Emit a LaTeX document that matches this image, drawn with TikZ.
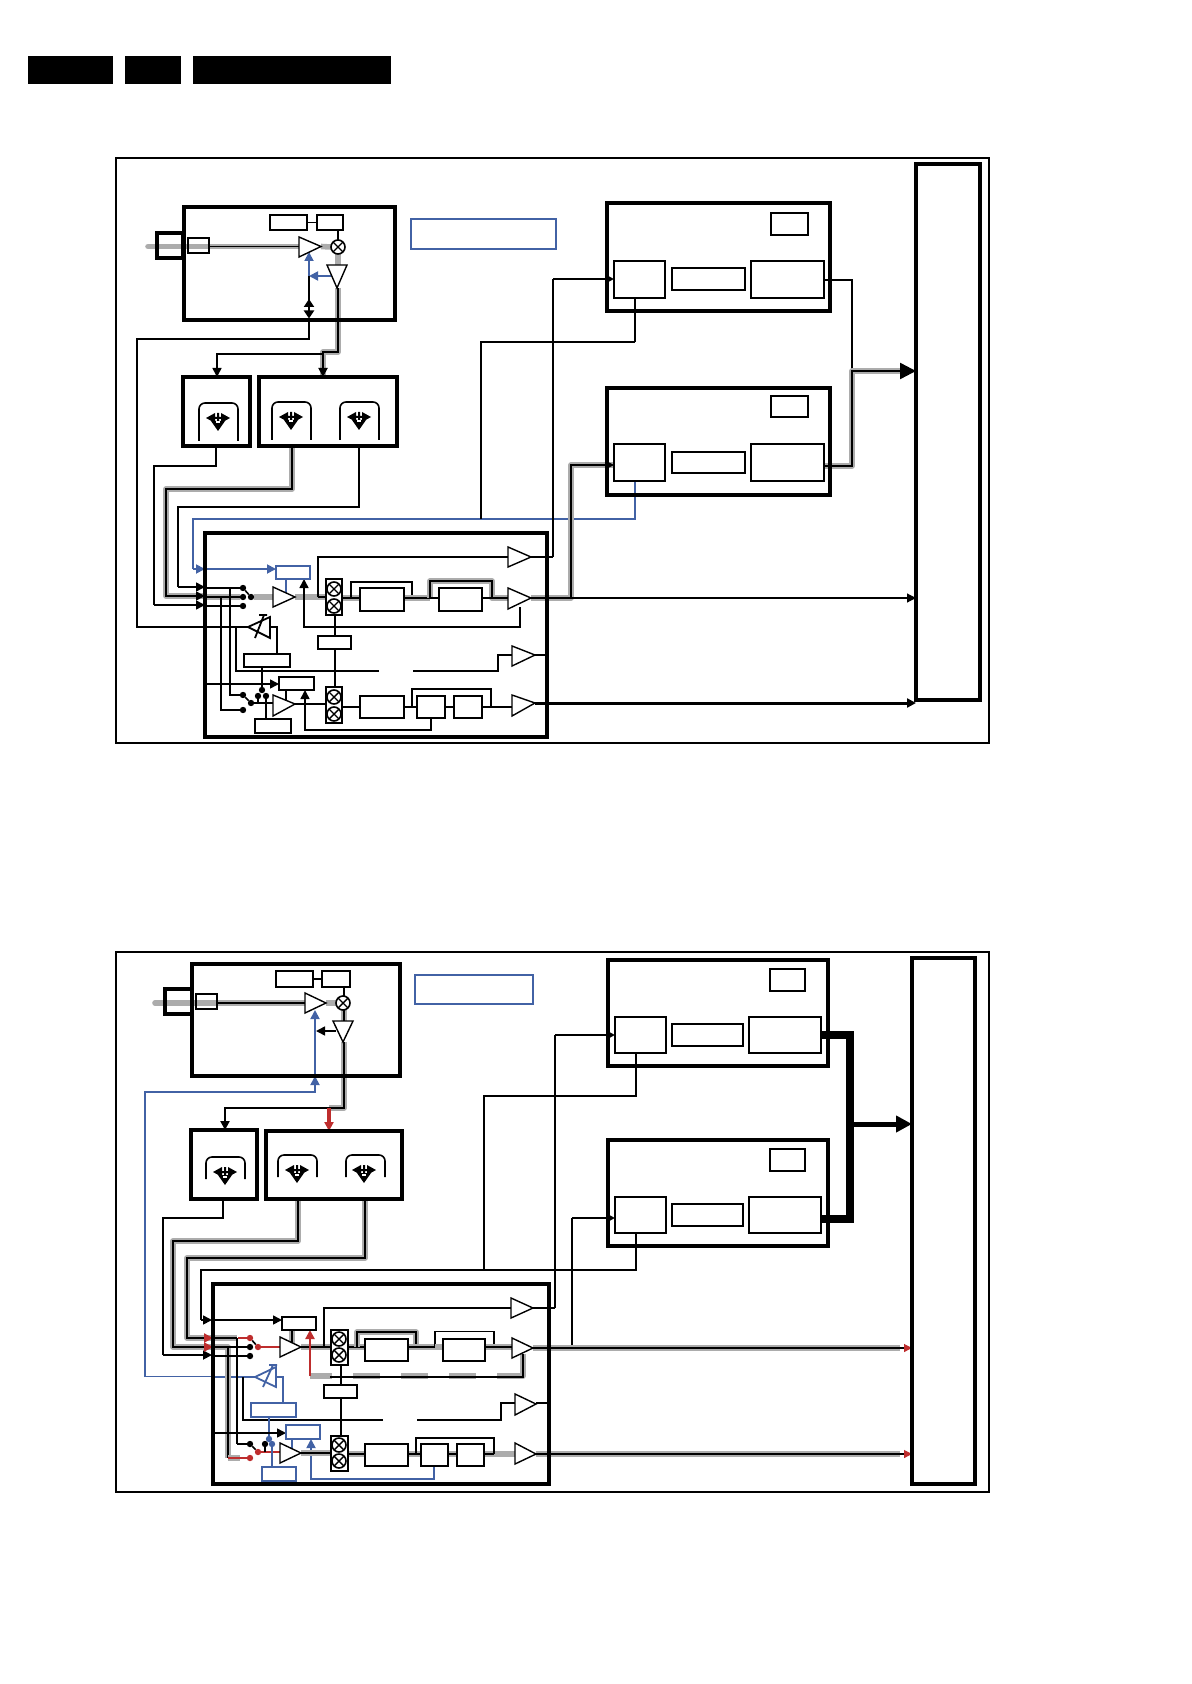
\documentclass[tikz,border=0pt]{standalone}
\usetikzlibrary{arrows.meta,backgrounds}
\definecolor{blu}{RGB}{66,98,165}
\definecolor{rd}{RGB}{190,45,45}
\definecolor{gry}{RGB}{172,172,172}
\tikzset{
 framebox/.style={draw,line width=1pt,inner sep=0,outer sep=0},
 bigbox/.style={draw,line width=1.6pt,inner sep=0,outer sep=0},
 thinbox/.style={draw,fill=white,line width=.55pt,inner sep=0,outer sep=0},
 medbox/.style={draw,fill=white,line width=1pt,inner sep=0,outer sep=0},
 openbox/.style={draw,line width=.55pt,inner sep=0,outer sep=0},
 blubox/.style={draw=blu,fill=white,line width=.8pt,inner sep=0,outer sep=0},
 blackbar/.style={fill=black,inner sep=0,outer sep=0},
 stackbox/.style={draw,fill=white,line width=.6pt,inner sep=0,outer sep=0},
 mixer/.style={circle,draw,fill=white,line width=.8pt,minimum size=7pt,inner sep=0,outer sep=0},
 dotn/.style={circle,fill=black,minimum size=3.2pt,inner sep=0,outer sep=0},
 rdot/.style={circle,fill=rd,minimum size=3.2pt,inner sep=0,outer sep=0},
 bdot/.style={circle,fill=blu,minimum size=3.2pt,inner sep=0,outer sep=0},
 ampst/.style={draw,fill=white,line width=.7pt,line join=miter},
 gl/.style={draw=gry,line width=2.8pt,line join=round},
 bk/.style={draw=black,line width=.9pt,line join=miter},
 th/.style={draw=black,line width=.55pt},
 md/.style={draw=black,line width=.8pt},
 tk/.style={draw=black,line width=1.3pt},
 bl/.style={draw=blu,line width=.9pt},
 blt/.style={draw=blu,line width=.55pt},
 rl/.style={draw=rd,line width=1.2pt},
 arr/.style={-{Triangle[length=4.5pt,width=4.5pt]}},
 bigarr/.style={-{Triangle[length=8pt,width=8pt]}},
}
\newcommand\bx[6][thinbox]{\node[#1,minimum width={(#5-#3)*0.5pt},minimum height={(#6-#4)*0.5pt}] (#2) at ({(#3+#5)/2},{(#4+#6)/2}) {};}
\newcommand\ampr[6][ampst]{\draw[#1] (#3,#4) -- (#3,#5) -- (#6) -- cycle; \coordinate (#2) at (#6); \coordinate (#2-in) at (#6 -| #3,0);}
\newcommand\mx[3]{\node[mixer] (#1) at (#2,#3) {}; \draw[line width=.7pt] (#1.north west) -- (#1.south east) (#1.north east) -- (#1.south west);}
\newcommand\archicon[4]{%
 \draw[line width=.8pt,rounded corners=3pt] (#1,#3+22) -- (#1,#3) -- (#1+39,#3) -- (#1+39,#3+22);
 \ifnum#4>0 \draw[line width=.8pt] (#1,#3+22) -- (#1,#3+38) (#1+39,#3+22) -- (#1+39,#3+38);\fi
 \fill (#2-12,#3+15) -- (#2-3,#3+10) -- (#2-3,#3+14) -- (#2-1,#3+14) -- (#2-1,#3+10) -- (#2+1,#3+10) -- (#2+1,#3+14) -- (#2+3,#3+14) -- (#2+3,#3+10) -- (#2+12,#3+15) -- (#2+3,#3+20) -- (#2+3,#3+16) -- (#2+1,#3+16) -- (#2+1,#3+18) -- (#2+7,#3+18) -- (#2,#3+28) -- (#2-7,#3+18) -- (#2-1,#3+18) -- (#2-1,#3+16) -- (#2-3,#3+16) -- (#2-3,#3+20) -- cycle;
 \fill[white] (#2-2,#3+18.5) rectangle (#2+2,#3+20.5);}
\newcommand\gb[2][]{\draw[gl] #2; \draw[bk,#1] #2;}
\begin{document}
\begin{tikzpicture}[x=0.5pt,y=-0.5pt]
\useasboundingbox (0,0) rectangle (1191,1684);
% header bars
\bx[blackbar]{hA}{28}{56}{113}{84}
\bx[blackbar]{hB}{125}{56}{181}{84}
\bx[blackbar]{hC}{193}{56}{391}{84}

%%%%%%%%%%%%%%%%%%%% TOP FRAME
\bx[framebox]{aframe}{116}{158}{989}{743}
\bx[bigbox]{abus}{916}{164}{980}{700}
\bx[bigbox]{aTun}{184}{207}{395}{320}
\bx[bigbox]{aConn}{157}{233}{183}{258}
\bx[openbox]{aSm}{188}{238}{209}{253}
\bx{aLOa}{270}{215}{307}{230}
\bx{aLOb}{317}{215}{343}{230}
\bx[blubox]{aNote}{411}{219}{556}{249}
\coordinate (aAnt) at (148,246.5);
\ampr{aTA}{299}{237}{257}{321,246.5}
\mx{aMx}{338}{247}
\draw[ampst] (327,265) -- (347,265) -- (337,288) -- cycle;
\coordinate (aTD) at (338,288); \coordinate (aTDin) at (338,265); \coordinate (aTDs) at (331,276);
\coordinate (aJ) at (309,276);
\bx[bigbox]{aFA}{183}{377}{250}{446}
\bx[bigbox]{aFB}{259}{377}{397}{446}
\archicon{199}{218}{403}{1}
\archicon{272}{291}{402}{1}
\archicon{340}{359}{402}{1}
% IF boxes
\bx[bigbox]{aIFa}{607}{203}{830}{311}
\bx{aIFas}{771}{213}{808}{235}
\bx[medbox]{aIFal}{614}{261}{665}{298}
\bx{aIFam}{672}{268}{745}{290}
\bx{aIFar}{751}{261}{824}{298}
\bx[bigbox]{aIFb}{607}{388}{830}{495}
\bx{aIFbs}{771}{396}{808}{417}
\bx{aIFbl}{614}{444}{665}{481}
\bx{aIFbm}{672}{452}{745}{473}
\bx{aIFbr}{751}{444}{824}{481}
% main IC
\bx[bigbox]{aIC}{205}{533}{547}{737}
\bx[blubox]{aAGCa}{276}{566}{310}{579}
\ampr{aAa}{273}{587}{607}{295,597}
\bx[stackbox]{aSt}{326}{579}{342}{615}
\mx{aMa}{334}{589}\mx{aMb}{334}{606}
\bx[medbox]{aFa}{360}{588}{404}{611}
\bx[medbox]{aFb}{439}{588}{482}{611}
\ampr{aOa}{508}{547}{567}{531,557}
\ampr{aOb}{508}{588}{609}{531,598}
\ampr{aOc}{512}{646}{666}{535,655}
\ampr{aOd}{512}{695}{716}{535,703}
\bx{aOsc}{318}{636}{351}{649}
\bx[medbox]{aAFC}{244}{654}{290}{667}
\bx[medbox]{aAGCb}{279}{677}{314}{690}
\ampr{aAb}{273}{695}{716}{295,704}
\bx[stackbox]{aStb}{326}{687}{342}{723}
\mx{aMc}{334}{697}\mx{aMd}{334}{714}
\bx{aFc}{360}{696}{404}{718}
\bx[medbox]{aFd}{417}{696}{445}{718}
\bx[medbox]{aFe}{454}{696}{482}{718}
\bx{aSet}{255}{719}{291}{733}
\foreach \n/\x/\y in {aSa/243/588,aSb/243/597,aSc/243/606,aSd/251/597,aSe/243/695,aSf/243/710,aSg/251/703,aSh/258/696,aSi/262/690,aSj/266/696}{\node[dotn] (\n) at (\x,\y) {};}
% varicap
\draw[line width=.9pt] (248,627) -- (270,617) -- (270,638) -- cycle;
\coordinate (aVc) at (248,627); \coordinate (aVb) at (270,627);
\draw[line width=.9pt] (255,638) -- (264,615) (259,615) -- (267,615);

\begin{pgfonlayer}{background}
\draw[gl,line cap=round] (aAnt) -- (aTA-in);
\draw[bk] (aSm.east |- aAnt) -- (aTA-in);
\draw[gl] (aTA) -- (aMx.west);
\draw[th] (aMx.north |- aLOb.south) -- (aMx.north);
\draw[md] (aLOa.east) -- (aLOb.west);
\draw[gl] (aMx.south) -- (aTDin);
\gb[arr]{(aTD) -- (338,352) -- (323,352) -- (aFB.north -| 323,0)}
\draw[md,arr] (323,354) -- (217,354) -- (aFA.north -| 217,0);
\draw[bl,arr] (aTDs) -- (aJ);
\draw[bl,arr] (aJ) -- (309,252);
\draw[tk] (aJ) -- (309,308);
\draw[tk,<->,>={Triangle[length=4pt,width=5pt]}] (309,299) -- (309,318.5);
\draw[md] (309,318) -- (309,339) -- (137,339) -- (137,627) -- (aVc);
\draw[th] (aFA.south -| 216,0) -- (216,466) -- (154,466) -- (154,605);
\draw[md,arr] (154,605) -- (205,605);
\gb{(aFB.south -| 292,0) -- (292,489) -- (166,489) -- (166,596) -- (205,596)}
\draw[md,arr] (198,596) -- (205,596);
\draw[th] (aFB.south -| 359,0) -- (359,507) -- (178,507) -- (178,587);
\draw[md,arr] (178,587) -- (205,587);
\draw[bl] (aIFbl.south -| 635,0) -- (635,519) -- (193,519) -- (193,569);
\draw[bl,arr] (193,569) -- (205,569);
\draw[bl,arr] (205,569) -- (aAGCa.west |- 0,569);
\draw[blt] (286,579) -- (286,597);
\draw[tk] (aIFal.south -| 635,0) -- (635,342);
\draw[md] (635,342) -- (481,342) -- (481,519);
\draw[th] (553,557) -- (553,279);
\draw[tk,arr] (553,279) -- (aIFal.west |- 0,279);
\draw[md] (aOa) -- (553,557);
\gb[arr]{(aOb) -- (571,598) -- (571,465) -- (aIFbl.west |- 0,465)}
\draw[th,arr] (571,598) -- (abus.west |- 0,598);
\draw[line width=1.5pt,arr] (aOd) -- (abus.west |- 0,703);
\draw[th] (aIFar.east |- 0,280) -- (852,280) -- (852,371);
\gb{(aIFbr.east |- 0,466) -- (852,466) -- (852,371) -- (900,371)}
\draw[bk,line width=1.2pt,bigarr] (852,371) -- (abus.west |- 0,371);
% inside IC
\draw[md] (205,588) -- (aSa);
\gb{(205,597) -- (aSb)}
\draw[md] (205,606) -- (aSc);
\draw[md] (230,587) -- (230,695) -- (aSe);
\draw[md] (221,597) -- (221,710) -- (aSf);
\draw[md] (aSa) -- (aSd);
\draw[gl] (aSd) -- (aAa-in); \draw[gl] (aAa) -- (aSt.west |- aAa);
\draw[md] (318,597) -- (318,557) -- (aOa-in);
\draw[md] (318,597) -- (aSt.west |- 0,597);
\gb{(aSt.east |- 0,598) -- (aFa.west |- 0,598)}
\draw[th] (351,598) -- (351,582) -- (412,582) -- (412,598);
\gb{(aFa.east |- 0,598) -- (430,598)}
\gb{(430,598) -- (430,581) -- (492,581) -- (492,598) -- (aOb-in)}
\draw[th] (aFb.west |- 0,598) -- (430,598);
\draw[th] (aFb.east |- 0,598) -- (492,598);
\draw[md,arr] (520,607) -- (520,627) -- (304,627) -- (aAGCa.south -| 304,0);
\draw[md] (aSt.south -| 335,0) -- (aOsc.north -| 335,0);
\draw[md] (aOsc.south -| 335,0) -- (aStb.north -| 335,0);
\draw[md] (aOc-in) -- (498,655) -- (498,671) -- (413,671);
\draw[md] (379,671) -- (236,671) -- (236,628);
\draw[md] (aIC.east |- aOc) -- (aOc);
\draw[th] (aVb) -- (277,627) -- (aAFC.north -| 277,0);
\draw[md] (aAFC.south -| 262,0) -- (aSi);
\draw[md,arr] (205,684) -- (aAGCb.west |- 0,684);
\draw[th] (286,690) -- (286,703);
\draw[md,arr] (aFd.south -| 431,0) -- (431,730) -- (305,730) -- (aAGCb.south -| 305,0);
\draw[md] (aSe) -- (aSg) -- (aAb-in |- aSg);
\draw[md] (aSh) -- (258,703);
\draw[md] (aSet.north -| 266,0) -- (aSj);
\draw[th] (aAb) -- (aStb.west |- aAb);
\draw[th] (aStb.east |- 0,707) -- (aFc.west |- 0,707);
\draw[th] (aFc.east |- 0,707) -- (aFd.west |- 0,707);
\draw[th] (aFd.east |- 0,707) -- (aFe.west |- 0,707);
\draw[th] (aFe.east |- 0,707) -- (aOd-in |- 0,707);
\draw[md] (412,707) -- (412,689) -- (491,689) -- (491,707);
\end{pgfonlayer}

%%%%%%%%%%%%%%%%%%%% BOTTOM FRAME
\bx[framebox]{bframe}{116}{952}{989}{1492}
\bx[bigbox]{bbus}{912}{958}{975}{1484}
\bx[bigbox]{bTun}{192}{964}{400}{1076}
\bx[bigbox]{bConn}{165}{989}{192}{1014}
\bx[openbox]{bSm}{196}{994}{217}{1009}
\bx{bLOa}{276}{971}{313}{987}
\bx{bLOb}{322}{971}{350}{987}
\bx[blubox]{bNote}{415}{975}{533}{1004}
\coordinate (bAnt) at (155,1003);
\ampr{bTA}{305}{993}{1013}{326,1003}
\mx{bMx}{343}{1003}
\draw[ampst] (333,1021) -- (353,1021) -- (343,1042) -- cycle;
\coordinate (bTD) at (344,1042); \coordinate (bTDin) at (344,1021);
\bx[bigbox]{bFA}{191}{1130}{257}{1199}
\bx[bigbox]{bFB}{266}{1131}{402}{1199}
\archicon{206}{225}{1157}{0}
\archicon{278}{297}{1155}{0}
\archicon{346}{364}{1155}{0}
\bx[bigbox]{bIFa}{608}{960}{828}{1066}
\bx{bIFas}{770}{969}{805}{991}
\bx{bIFal}{615}{1017}{666}{1053}
\bx{bIFam}{672}{1024}{743}{1046}
\bx{bIFar}{749}{1017}{821}{1053}
\bx[bigbox]{bIFb}{608}{1140}{828}{1246}
\bx{bIFbs}{770}{1149}{805}{1171}
\bx{bIFbl}{615}{1197}{666}{1233}
\bx{bIFbm}{672}{1204}{743}{1226}
\bx{bIFbr}{749}{1197}{821}{1233}
\bx[bigbox]{bIC}{213}{1284}{549}{1484}
\bx[medbox]{bAGCa}{282}{1317}{316}{1330}
\ampr{bAa}{280}{1337}{1357}{301,1347}
\bx[stackbox]{bSt}{331}{1330}{348}{1365}
\mx{bMa}{339}{1339}\mx{bMb}{339}{1355}
\bx[medbox]{bFa}{365}{1339}{408}{1361}
\bx{bFb}{443}{1339}{485}{1361}
\ampr{bOa}{511}{1298}{1318}{533,1308}
\ampr{bOb}{512}{1338}{1358}{533,1348}
\ampr{bOc}{515}{1394}{1415}{536,1404}
\ampr{bOd}{515}{1443}{1464}{536,1454}
\bx[medbox]{bOsc}{324}{1385}{357}{1398}
\bx[blubox]{bAFC}{251}{1403}{296}{1417}
\bx[blubox]{bAGCb}{286}{1425}{320}{1439}
\ampr{bAb}{280}{1443}{1463}{301,1453}
\bx[stackbox]{bStb}{331}{1436}{348}{1471}
\mx{bMc}{339}{1445}\mx{bMd}{339}{1461}
\bx[medbox]{bFc}{365}{1444}{408}{1466}
\bx[medbox]{bFd}{421}{1444}{448}{1466}
\bx[medbox]{bFe}{457}{1444}{484}{1466}
\bx[blubox]{bSet}{262}{1467}{296}{1481}
\foreach \n/\x/\y/\s in {bSa/250/1338/rdot,bSb/250/1347/dotn,bSc/250/1356/dotn,bSd/258/1347/rdot,bSe/250/1444/dotn,bSf/250/1458/rdot,bSg/258/1452/rdot,bSh/265/1444/dotn,bSi/269/1439/bdot,bSj/272/1444/bdot}{\node[\s] (\n) at (\x,\y) {};}
\draw[blu,line width=.9pt] (255,1377) -- (276,1367) -- (276,1387) -- cycle;
\coordinate (bVc) at (255,1377); \coordinate (bVb) at (276,1377);
\draw[blu,line width=.9pt] (263,1387) -- (273,1365) (269,1365) -- (277,1365);

\begin{pgfonlayer}{background}
\draw[gl,line cap=round] (bAnt) -- (bTA-in);
\draw[th] (bSm.east |- bAnt) -- (bTA-in);
\draw[gl] (bTA) -- (bMx.west);
\draw[th] (bLOa.east) -- (bLOb.west);
\draw[md] (344,985) -- (bMx.north -| 344,0);
\gb{(bMx.south -| 344,0) -- (bTDin)}
\gb{(bTD) -- (344,1108) -- (329,1108)}
\draw[line width=1.2pt,arr] (344,1108) -- (225,1108) -- (bFA.north -| 225,0);
\draw[rl,line width=1.6pt,arr] (329,1108) -- (bFB.north -| 329,0);
\draw[md,arr] (336,1031) -- (316,1031);
\draw[bl,arr] (315,1031) -- (315,1010);
\draw[blt] (315,1076) -- (315,1031);
\draw[bl,arr] (145,1377) -- (145,1092) -- (315,1092) -- (bTun.south -| 315,0);
\draw[bl] (145,1376.5) -- (213,1376.5);
\draw[blt] (213,1377) -- (bVc);
\draw[th] (bFA.south -| 223,0) -- (223,1218) -- (163,1218) -- (163,1355);
\draw[bk,arr] (163,1355) -- (212,1355);
\gb{(bFB.south -| 298,0) -- (298,1241) -- (173,1241) -- (173,1347) -- (228,1347) -- (228,1458)}
\gb{(bFB.south -| 365,0) -- (365,1258) -- (187,1258) -- (187,1338) -- (237,1338)}
\draw[md] (237,1338) -- (237,1444);
\draw[md] (bIFbl.south -| 636,0) -- (636,1270) -- (201,1270) -- (201,1320);
\draw[md,arr] (201,1320) -- (212,1320);
\draw[md,arr] (212,1320) -- (bAGCa.west |- 0,1320);
\draw[md] (bIFal.south -| 636,0) -- (636,1096) -- (484,1096) -- (484,1270);
\draw[th] (572,1348) -- (572,1218);
\draw[tk,arr] (572,1218) -- (bIFbl.west |- 0,1218);
\draw[md] (555,1308) -- (555,1035);
\draw[tk,arr] (555,1035) -- (bIFal.west |- 0,1035);
\draw[md] (bOa) -- (555,1308);
\draw[line width=3.8pt] (bIFar.east |- 0,1035) -- (850,1035) -- (850,1219) -- (bIFbr.east |- 0,1219);
\draw[line width=2.5pt,bigarr] (850,1124) -- (bbus.west |- 0,1124);
\draw[gl] (bOb) -- (900,1348);
\draw[th,-{Triangle[length=4pt,width=4pt,color=rd]}] (bOb) -- (bbus.west |- bOb);
\draw[gl] (bOd) -- (900,1454);
\draw[th,-{Triangle[length=4pt,width=4pt,color=rd]}] (bOd) -- (bbus.west |- bOd);
% inside IC
\draw[rl,arr] (205,1338) -- (213,1338);
\draw[rl,arr] (205,1347) -- (213,1347);
\draw[rl] (238,1338) -- (bSa);
\draw[md] (237,1347) -- (bSb);
\draw[md] (213,1356) -- (bSc);
\draw[md] (228,1347) -- (237,1347);
\draw[gl] (228,1458) -- (240,1458);
\draw[rl] (228,1458) -- (bSf);
\draw[md] (237,1444) -- (bSe);
\draw[md] (bSa) -- (bSd);
\draw[md] (bSe) -- (bSg);
\draw[rl] (bSd) -- (bAa-in);
\draw[rl] (bSg) -- (bAb-in |- bSg);
\draw[md] (bSh) -- (265,1452);
\gb{(bAGCa.south -| 292,0) -- (292,1347)}
\gb{(bAa) -- (bSt.west |- bAa)}
\draw[md] (324,1347) -- (324,1308) -- (bOa-in);
\gb{(bSt.east |- 0,1347) -- (bFa.west |- 0,1347)}
\gb{(357,1347) -- (357,1332) -- (416,1332) -- (416,1347)}
\gb{(bFa.east |- 0,1347) -- (435,1347)}
\draw[th] (435,1347) -- (435,1331.5) -- (494,1331.5) -- (494,1347);
\gb{(bFb.east |- 0,1347) -- (bOb-in |- 0,1347)}
\draw[gl] (435,1347) -- (bFb.west |- 0,1347);
\draw[gl,dash pattern=on 13.5pt off 10.5pt,dash phase=2.5pt] (310,1376) -- (497,1376);
\draw[gl] (497,1376) -- (523,1376) -- (523,1354);
\draw[th] (330,1377) -- (523,1377) -- (523,1354);
\draw[rl,arr] (310,1376) -- (bAGCa.south -| 310,0);
\draw[md,line width=1.2pt] (bSt.south -| 341,0) -- (bOsc.north -| 341,0);
\draw[md,line width=1.2pt] (bOsc.south -| 341,0) -- (bStb.north -| 341,0);
\draw[md] (bOc-in |- 0,1403) -- (501,1403) -- (501,1420) -- (417,1420);
\draw[md] (383,1420) -- (243,1420) -- (243,1377);
\draw[md] (bIC.east |- 0,1403) -- (bOc |- 0,1403);
\draw[blt] (bVb) -- (283,1377) -- (bAFC.north -| 283,0);
\draw[bl] (bAFC.south -| 269,0) -- (bSi);
\draw[md,arr] (213,1433) -- (bAGCb.west |- 0,1433);
\draw[blt] (292,1439) -- (292,1450);
\draw[bl,arr] (bFd.south -| 434,0) -- (434,1479) -- (311,1479) -- (bAGCb.south -| 311,0);
\draw[bl] (bSet.north -| 272,0) -- (bSj);
\draw[gl] (bAb) -- (bStb.west |- bAb);
\draw[gl] (bStb.east |- 0,1454) -- (bFc.west |- 0,1454);
\draw[gl] (bFc.east |- 0,1454) -- (bFd.west |- 0,1454);
\draw[gl] (bFd.east |- 0,1454) -- (bFe.west |- 0,1454);
\draw[gl] (bFe.east |- 0,1454) -- (bOd-in);
\draw[th] (bAb) -- (bStb.west |- bAb);
\draw[th] (bStb.east |- 0,1454) -- (bFc.west |- 0,1454);
\draw[th] (bFc.east |- 0,1454) -- (bFd.west |- 0,1454);
\draw[th] (bFd.east |- 0,1454) -- (bFe.west |- 0,1454);
\draw[th] (bFe.east |- 0,1454) -- (494,1454);
\draw[md] (416,1454) -- (416,1438) -- (494,1438) -- (494,1454);
\end{pgfonlayer}
\end{tikzpicture}
\end{document}
